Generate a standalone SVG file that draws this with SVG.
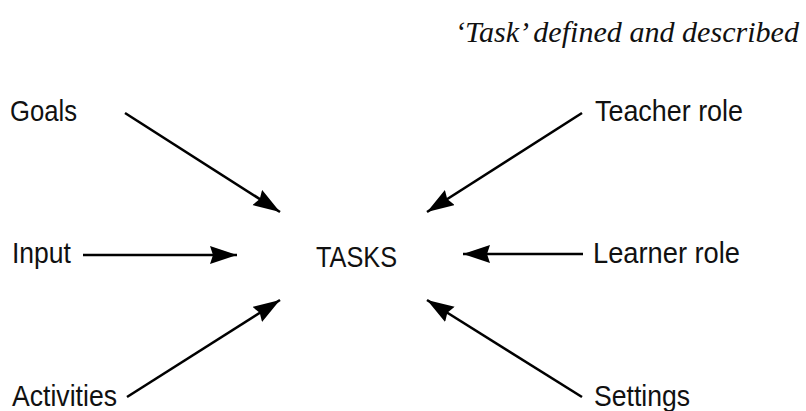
<svg xmlns="http://www.w3.org/2000/svg" width="806" height="411" viewBox="0 0 806 411">
<style>
.lbl{font-family:"Liberation Sans",Arial,sans-serif;font-size:30px;fill:#111}
.title{font-family:"Liberation Serif","Times New Roman",serif;font-style:italic;font-size:30px;fill:#111}
.conn line{stroke:#000;stroke-width:2.6;fill:none}
</style>
<defs>
<marker id="ah" markerUnits="userSpaceOnUse" markerWidth="30" markerHeight="20" refX="27" refY="9" orient="auto">
<path d="M0,0 L27,9 L0,18 L3,9 Z" fill="#000"/>
</marker>
</defs>
<rect width="806" height="411" fill="#fff"/>
<text class="title" x="455" y="42" textLength="344" lengthAdjust="spacingAndGlyphs">‘Task’ defined and described</text>
<g id="goals"><text class="lbl" x="10" y="121" textLength="67" lengthAdjust="spacingAndGlyphs">Goals</text></g>
<g id="teacher"><text class="lbl" x="595" y="121" textLength="148" lengthAdjust="spacingAndGlyphs">Teacher role</text></g>
<g id="input"><text class="lbl" x="12" y="263" textLength="59" lengthAdjust="spacingAndGlyphs">Input</text></g>
<g id="tasks"><text class="lbl" x="316" y="267" textLength="81" lengthAdjust="spacingAndGlyphs">TASKS</text></g>
<g id="learner"><text class="lbl" x="593" y="263" textLength="147" lengthAdjust="spacingAndGlyphs">Learner role</text></g>
<g id="activities"><text class="lbl" x="12" y="406" textLength="105" lengthAdjust="spacingAndGlyphs">Activities</text></g>
<g id="settings"><text class="lbl" x="594" y="406" textLength="96" lengthAdjust="spacingAndGlyphs">Settings</text></g>
<g id="connectors" class="conn">
<line x1="125" y1="113" x2="280" y2="212" marker-end="url(#ah)"/>
<line x1="582" y1="113" x2="427" y2="212" marker-end="url(#ah)"/>
<line x1="83" y1="255" x2="237" y2="255" marker-end="url(#ah)"/>
<line x1="583" y1="254" x2="463" y2="254" marker-end="url(#ah)"/>
<line x1="127" y1="397" x2="280" y2="300" marker-end="url(#ah)"/>
<line x1="582" y1="397" x2="427" y2="300" marker-end="url(#ah)"/>
</g>
</svg>
